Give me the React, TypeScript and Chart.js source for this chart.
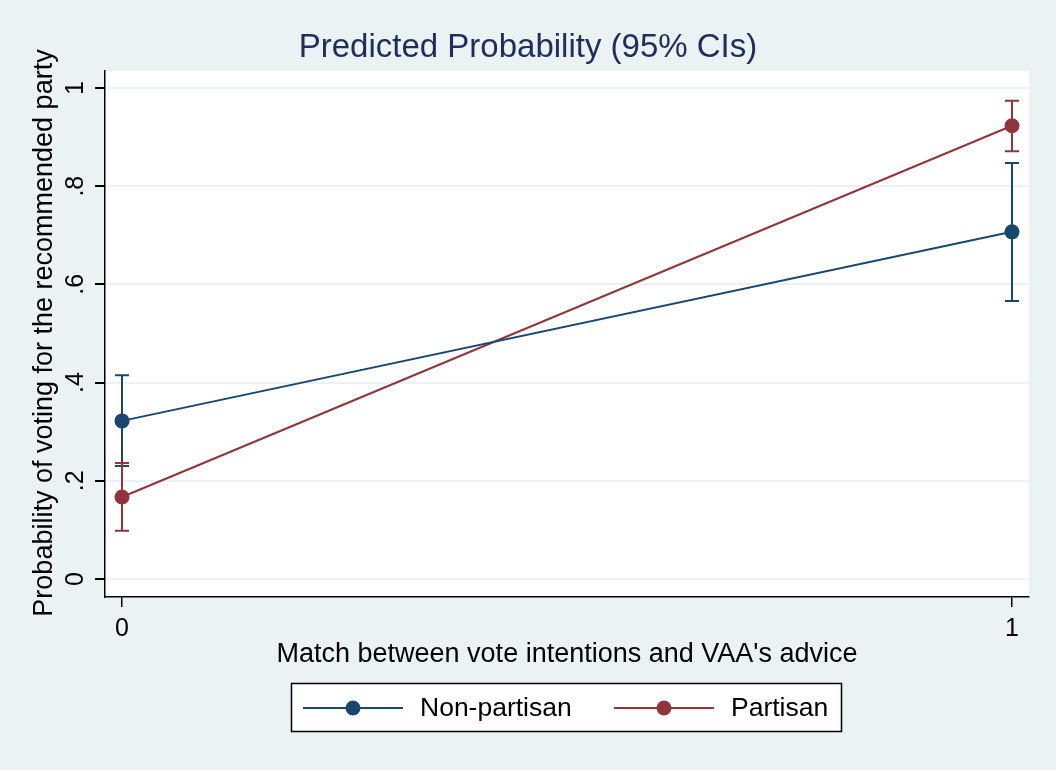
import React, { useEffect, useRef } from "react";
import { Chart, registerables } from "chart.js";

Chart.register(...registerables);

const xValues = [0, 1];
const xTickLabels = ["0", "1"];
const yTickValues = [0, 0.2, 0.4, 0.6, 0.8, 1];
const yTickLabels = ["0", ".2", ".4", ".6", ".8", "1"];

const nonPartisan = [0.322, 0.707];
const nonPartisanLow = [0.23, 0.566];
const nonPartisanHigh = [0.415, 0.847];

const partisan = [0.167, 0.923];
const partisanLow = [0.098, 0.871];
const partisanHigh = [0.236, 0.974];

const seriesNames = ["Non-partisan", "Partisan"];
const NAVY = "#1A476F";
const MAROON = "#90353B";
const BG = "#EAF2F3";
const FONT = "'Liberation Sans', Arial, sans-serif";

export default function App() {
  const ref = useRef<HTMLCanvasElement | null>(null);

  useEffect(() => {
    document.body.style.margin = "0";
    const canvas = ref.current!;
    const lows = [nonPartisanLow, partisanLow];
    const highs = [nonPartisanHigh, partisanHigh];
    const colors = [NAVY, MAROON];

    const plugin = {
      id: "stata",
      beforeDraw(chart: any) {
        const { ctx, chartArea } = chart;
        ctx.save();
        ctx.fillStyle = BG;
        ctx.fillRect(0, 0, chart.width, chart.height);
        ctx.fillStyle = "#FFFFFF";
        ctx.fillRect(chartArea.left, chartArea.top, chartArea.right - chartArea.left, chartArea.bottom - chartArea.top);
        ctx.restore();
      },
      afterDatasetsDraw(chart: any) {
        const { ctx } = chart;
        const xs = chart.scales.x;
        const ys = chart.scales.y;
        ctx.save();
        for (let s = 0; s < 2; s++) {
          ctx.strokeStyle = colors[s];
          ctx.lineWidth = 2;
          for (let i = 0; i < xValues.length; i++) {
            const px = xs.getPixelForValue(xValues[i]);
            const lo = ys.getPixelForValue(lows[s][i]);
            const hi = ys.getPixelForValue(highs[s][i]);
            ctx.beginPath();
            ctx.moveTo(px, lo);
            ctx.lineTo(px, hi);
            ctx.moveTo(px - 7, lo);
            ctx.lineTo(px + 7, lo);
            ctx.moveTo(px - 7, hi);
            ctx.lineTo(px + 7, hi);
            ctx.stroke();
          }
        }
        ctx.restore();
      },
      afterDraw(chart: any) {
        const { ctx, chartArea } = chart;
        const xs = chart.scales.x;
        const ys = chart.scales.y;
        ctx.save();
        ctx.fillStyle = "#000";
        ctx.font = `25px ${FONT}`;
        ctx.textAlign = "center";
        ctx.textBaseline = "middle";
        for (let i = 0; i < xValues.length; i++) {
          ctx.fillText(xTickLabels[i], xs.getPixelForValue(xValues[i]), 629);
        }
        for (let i = 0; i < yTickValues.length; i++) {
          const py = ys.getPixelForValue(yTickValues[i]);
          ctx.save();
          ctx.translate(76, py);
          ctx.rotate(-Math.PI / 2);
          ctx.fillText(yTickLabels[i], 0, 0);
          ctx.restore();
        }
        // title
        ctx.fillStyle = "#1E2D5A";
        ctx.font = `33px ${FONT}`;
        ctx.fillText("Predicted Probability (95% CIs)", chart.width / 2, 48);
        // axis titles
        ctx.fillStyle = "#000";
        ctx.font = `27px ${FONT}`;
        ctx.fillText("Match between vote intentions and VAA's advice", (chartArea.left + chartArea.right) / 2, 655);
        ctx.save();
        ctx.translate(45, (chartArea.top + chartArea.bottom) / 2 - 1);
        ctx.rotate(-Math.PI / 2);
        ctx.fillText("Probability of voting for the recommended party", 0, 0);
        ctx.restore();
        // legend
        ctx.fillStyle = "#FFFFFF";
        ctx.fillRect(291, 683, 551, 49);
        ctx.strokeStyle = "#000";
        ctx.lineWidth = 1.5;
        ctx.strokeRect(291.5, 683.5, 550, 48);
        const items = [
          { x0: 303, text: 420 },
          { x0: 614, text: 731 },
        ];
        ctx.font = `26.5px ${FONT}`;
        ctx.textAlign = "left";
        for (let s = 0; s < 2; s++) {
          const it = items[s];
          ctx.strokeStyle = colors[s];
          ctx.lineWidth = 2;
          ctx.beginPath();
          ctx.moveTo(it.x0, 708);
          ctx.lineTo(it.x0 + 100, 708);
          ctx.stroke();
          ctx.fillStyle = colors[s];
          ctx.beginPath();
          ctx.arc(it.x0 + 50, 708, 7.5, 0, Math.PI * 2);
          ctx.fill();
          ctx.fillStyle = "#000";
          ctx.fillText(seriesNames[s], it.text, 709);
        }
        ctx.restore();
      },
    };

    const toPoints = (vals: number[]) => xValues.map((x, i) => ({ x, y: vals[i] }));

    const chart = new Chart(canvas, {
      type: "line",
      data: {
        datasets: [
          {
            label: seriesNames[0],
            data: toPoints(nonPartisan),
            borderColor: NAVY,
            backgroundColor: NAVY,
            borderWidth: 2,
            pointRadius: 7.5,
            pointBorderWidth: 0,
            pointBackgroundColor: NAVY,
          },
          {
            label: seriesNames[1],
            data: toPoints(partisan),
            borderColor: MAROON,
            backgroundColor: MAROON,
            borderWidth: 2,
            pointRadius: 7.5,
            pointBorderWidth: 0,
            pointBackgroundColor: MAROON,
          },
        ],
      },
      plugins: [plugin],
      options: {
        animation: false,
        responsive: false,
        events: [],
        layout: { padding: { left: 0, top: 71, right: 27, bottom: 73 } },
        plugins: { legend: { display: false }, title: { display: false }, tooltip: { enabled: false } },
        scales: {
          x: {
            type: "linear",
            min: -0.0191,
            max: 1.0191,
            ticks: { stepSize: 1, includeBounds: false, display: false },
            grid: { drawOnChartArea: false, drawTicks: true, tickLength: 10, tickColor: "#000", lineWidth: 1.5 },
            border: { color: "#000", width: 1.5 },
            afterFit: (scale: any) => {
              scale.height = 100;
            },
          },
          y: {
            type: "linear",
            min: -0.0367,
            max: 1.0346,
            ticks: { stepSize: 0.2, includeBounds: false, display: false },
            grid: { drawOnChartArea: true, color: BG, lineWidth: 2, drawTicks: true, tickLength: 10, tickColor: "#000" },
            border: { color: "#000", width: 1.5 },
            afterFit: (scale: any) => {
              scale.width = 105;
            },
          },
        },
      },
    } as any);

    return () => chart.destroy();
  }, []);

  return <canvas ref={ref} width={1056} height={770} style={{ display: "block" }} />;
}
